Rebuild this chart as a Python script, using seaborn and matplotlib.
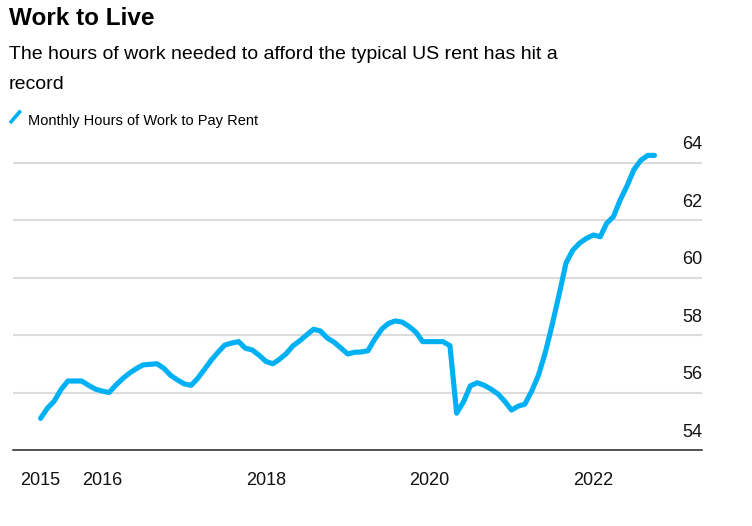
import pandas as pd
import matplotlib.pyplot as plt
from matplotlib.lines import Line2D
import seaborn as sns

# Monthly hours of work needed to pay the typical US rent, Apr 2015 - Oct 2022
start_month = "2015-04-01"
hours = [
    55.1, 55.45, 55.7, 56.1, 56.4, 56.4, 56.4, 56.25, 56.12, 56.05,
    56.0, 56.25, 56.48, 56.67, 56.83, 56.96, 56.98, 57.0, 56.85, 56.6,
    56.44, 56.3, 56.25, 56.48, 56.8, 57.12, 57.4, 57.65, 57.72, 57.77,
    57.54, 57.48, 57.3, 57.08, 57.0, 57.15, 57.35, 57.62, 57.8, 58.0,
    58.2, 58.14, 57.9, 57.75, 57.55, 57.34, 57.4, 57.41, 57.45, 57.85,
    58.2, 58.4, 58.49, 58.45, 58.3, 58.1, 57.77, 57.77, 57.77, 57.77,
    57.63, 55.28, 55.68, 56.23, 56.34, 56.25, 56.12, 55.95, 55.7, 55.39,
    55.53, 55.59, 56.05, 56.6, 57.4, 58.35, 59.4, 60.5, 60.95, 61.2,
    61.36, 61.48, 61.42, 61.88, 62.12, 62.7, 63.2, 63.75, 64.08, 64.25,
    64.25,
]
series_name = "Monthly Hours of Work to Pay Rent"

x_tick_dates = ["2015-04-01", "2016-01-01", "2018-01-01", "2020-01-01", "2022-01-01"]
x_tick_labels = ["2015", "2016", "2018", "2020", "2022"]
y_ticks = [54, 56, 58, 60, 62, 64]

df = pd.DataFrame({
    "month": pd.date_range(start_month, periods=len(hours), freq="MS"),
    "hours": hours,
})

sns.set_style("white")
plt.rcParams["font.family"] = ["Liberation Sans", "DejaVu Sans"]

blue = "#00b0f5"
grid_grey = "#dcdcdc"

fig = plt.figure(figsize=(7.52, 5.26), dpi=100)
ax = fig.add_axes([0.0173, 0.1445, 0.9162, 0.5798])

sns.lineplot(data=df, x="month", y="hours", ax=ax, color=blue, linewidth=3.7,
             solid_capstyle="round", solid_joinstyle="round", zorder=3)

ax.set_xlim(pd.Timestamp("2014-11-29"), pd.Timestamp("2023-05-01"))
ax.set_ylim(54, 64.61)

# horizontal grid, labels sit above lines on the right
for v in y_ticks[1:]:
    ax.axhline(v, color=grid_grey, linewidth=1.5, zorder=1)
ax.set_yticks([])
for v in y_ticks:
    ax.annotate(str(v), xy=(1.0, v), xycoords=("axes fraction", "data"),
                xytext=(0, 9.5), textcoords="offset points",
                ha="right", va="baseline", fontsize=13, color="#111111")

ax.set_xticks(pd.to_datetime(x_tick_dates))
ax.set_xticklabels(x_tick_labels, fontsize=13, color="#111111")
ax.tick_params(axis="x", direction="out", length=6.5, width=1.1, color="#222222", pad=9.5)
ax.set_xlabel("")
ax.set_ylabel("")

for side in ["top", "left", "right"]:
    ax.spines[side].set_visible(False)
ax.spines["bottom"].set_color("#222222")
ax.spines["bottom"].set_linewidth(1.1)

# headline, subtitle, legend key
fig.text(0.012, 0.9525, "Work to Live", fontsize=17.5, fontweight="bold",
         va="baseline", ha="left", color="#000000")
fig.text(0.012, 0.8873, "The hours of work needed to afford the typical US rent has hit a",
         fontsize=14, va="baseline", ha="left", color="#000000")
fig.text(0.012, 0.8302, "record", fontsize=14, va="baseline", ha="left", color="#000000")
fig.add_artist(Line2D([0.0133, 0.0275], [0.7662, 0.7896], transform=fig.transFigure,
                      color=blue, linewidth=2.6, solid_capstyle="butt"))
fig.text(0.037, 0.7624, series_name, fontsize=10.5, va="baseline", ha="left",
         color="#000000")

fig.savefig("out.png", dpi=100, facecolor="white")
